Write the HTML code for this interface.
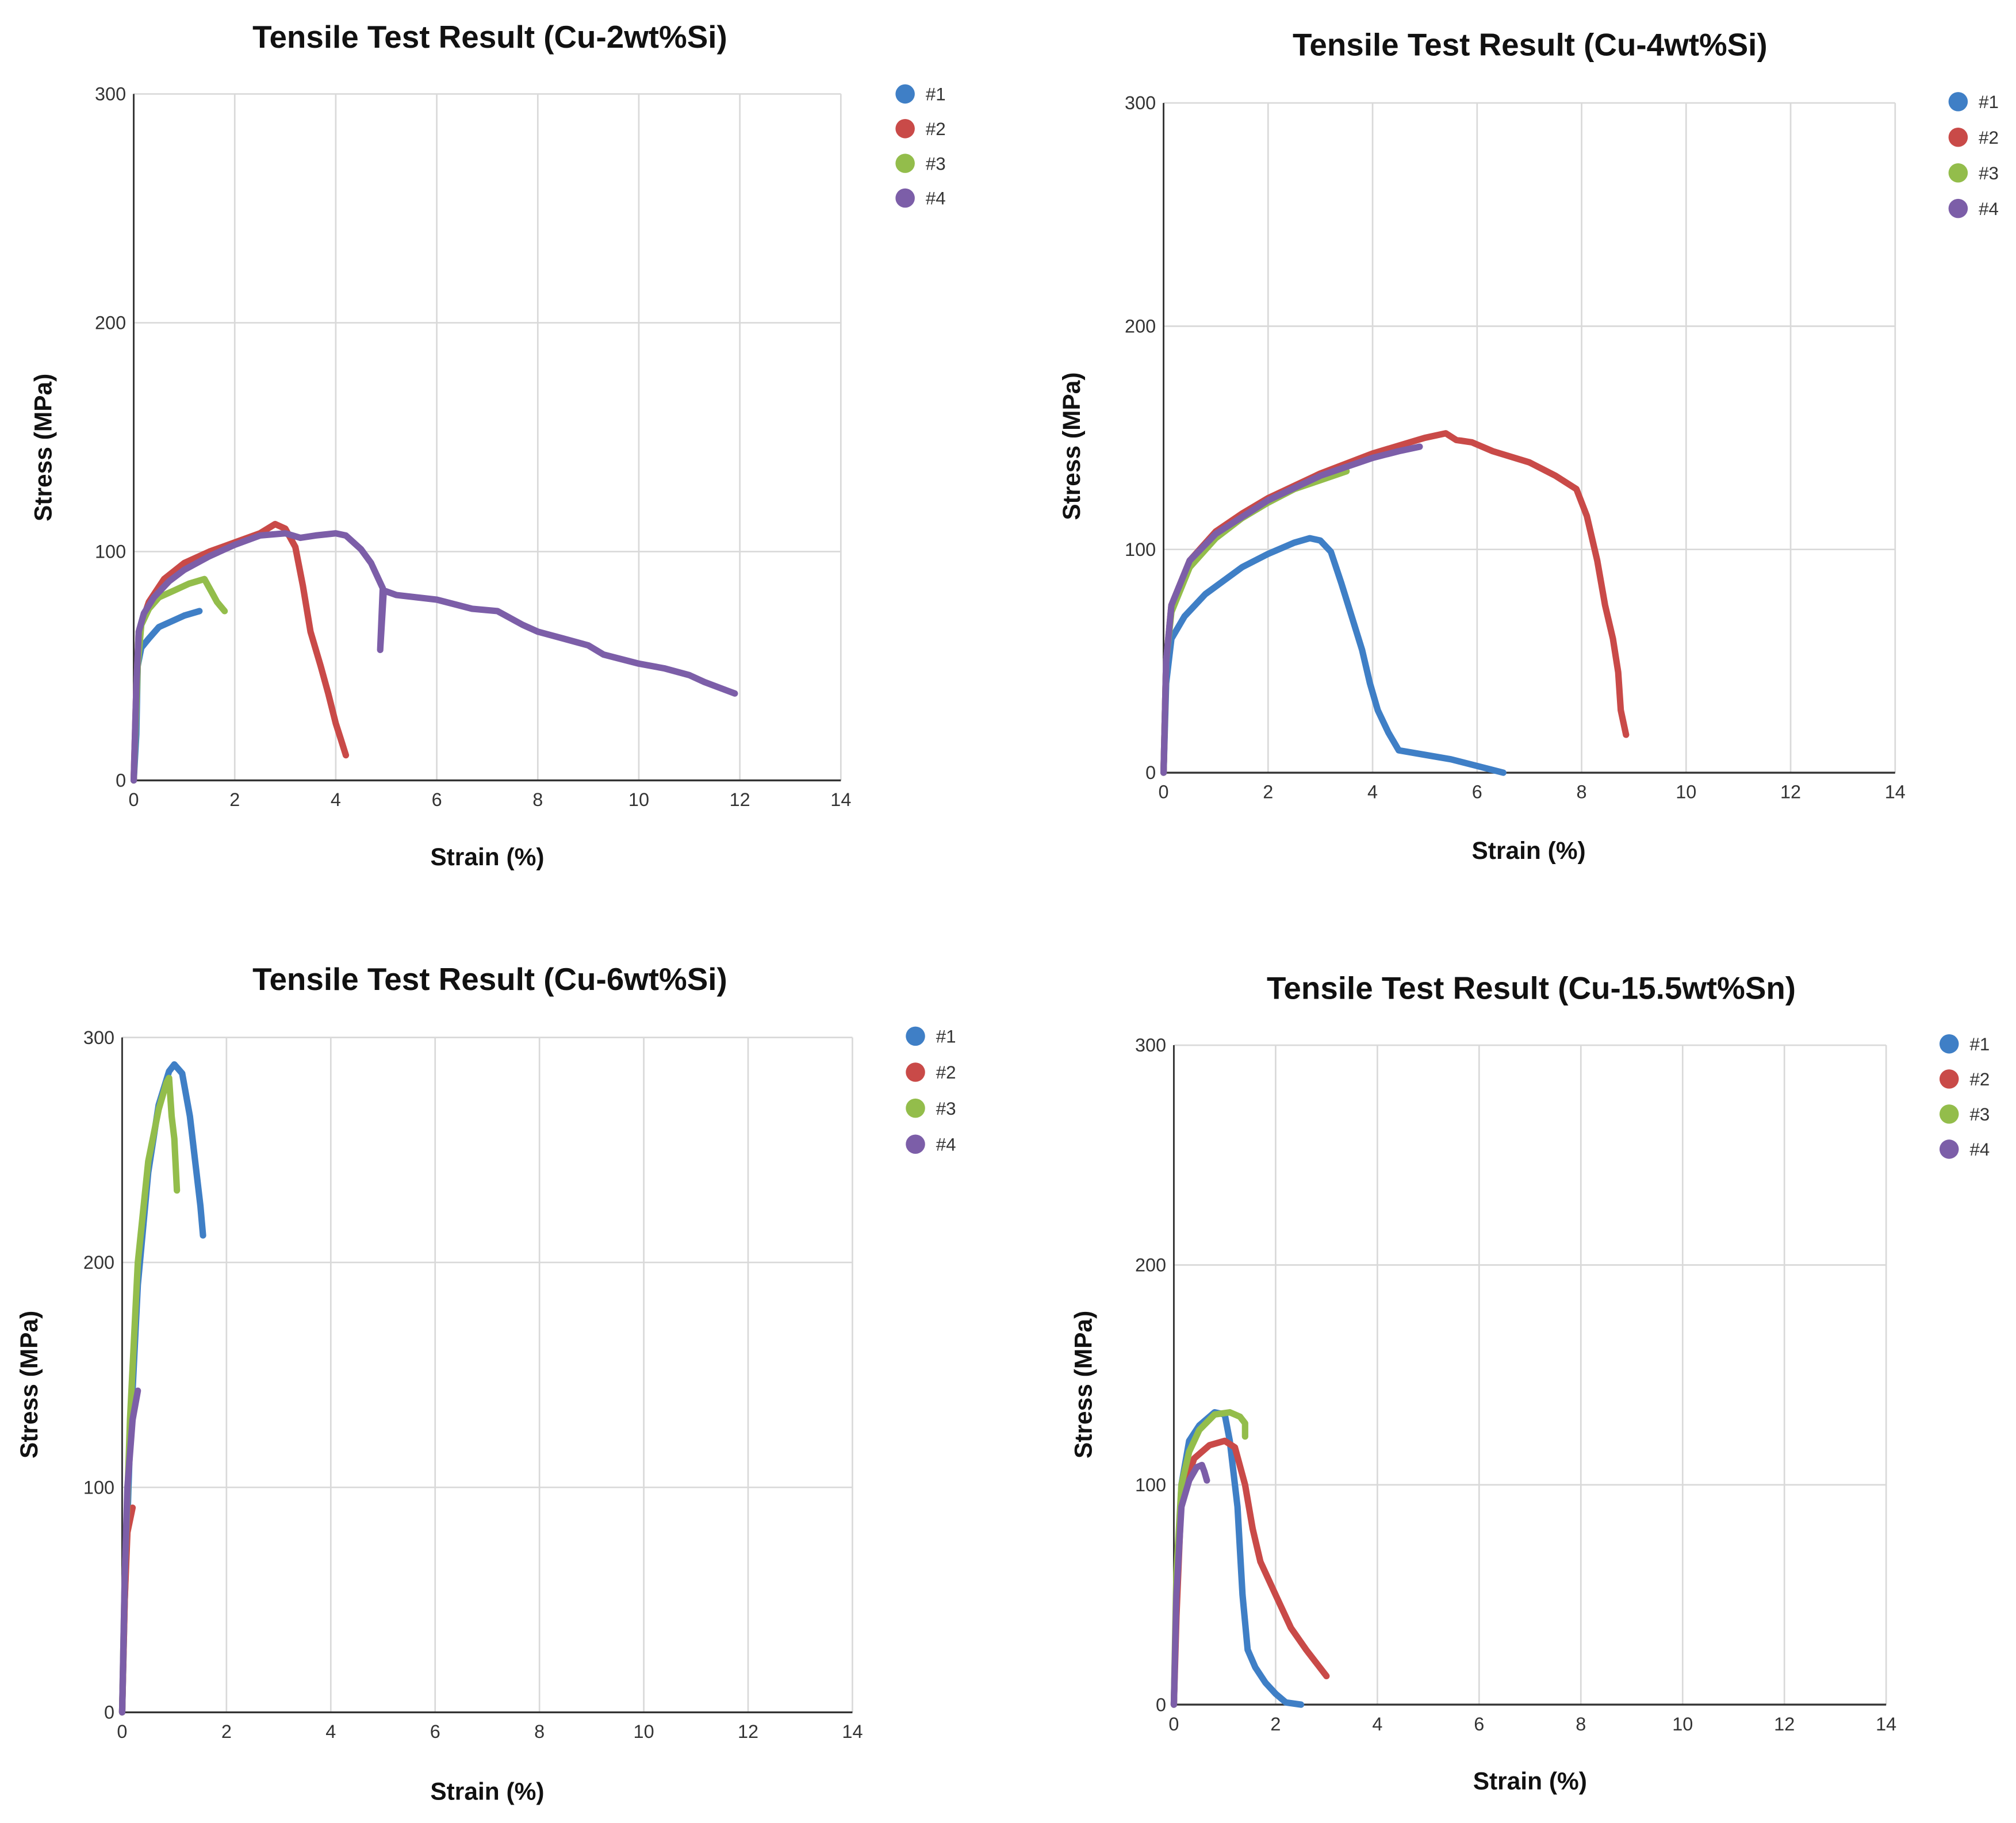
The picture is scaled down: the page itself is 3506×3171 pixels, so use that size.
<!DOCTYPE html>
<html><head><meta charset="utf-8"><style>
html,body{margin:0;padding:0;background:#fff;}
svg{display:block;font-family:"Liberation Sans","Noto Sans CJK KR",sans-serif;}
</style></head><body>
<svg id="root" width="3506" height="3171" viewBox="0 0 1568 1418" xmlns="http://www.w3.org/2000/svg"></svg>
<script>
const xTicks = [0,2,4,6,8,10,12,14];
const yTicks = [0,100,200,300];
const seriesNames = ["#1","#2","#3","#4"];
const colors = ["#3f7fc6","#c94a48","#93bd4b","#7c5ea8"];
const titles = ["Tensile Test Result (Cu-2wt%Si)","Tensile Test Result (Cu-4wt%Si)","Tensile Test Result (Cu-6wt%Si)","Tensile Test Result (Cu-15.5wt%Sn)"];

const c1s1 = [[0,0],[0.05,20],[0.08,50],[0.15,58],[0.3,62],[0.5,67],[0.8,70],[1.0,72],[1.3,74]];
const c1s2 = [[0,0],[0.05,40],[0.1,65],[0.3,78],[0.6,88],[1,95],[1.5,100],[2,104],[2.5,108],[2.8,112],[3.0,110],[3.2,102],[3.35,85],[3.5,65],[3.7,50],[3.85,38],[4.0,25],[4.1,18],[4.2,11]];
const c1s3 = [[0,0],[0.08,50],[0.15,68],[0.3,75],[0.5,80],[0.8,83],[1.1,86],[1.4,88],[1.55,82],[1.65,78],[1.8,74]];
const c1s4 = [[0,0],[0.05,40],[0.1,65],[0.2,73],[0.4,80],[0.7,87],[1,92],[1.5,98],[2,103],[2.5,107],[3,108],[3.3,106],[3.6,107],[4.0,108],[4.2,107],[4.5,101],[4.7,95],[4.93,84],[4.88,57],[4.95,83],[5.2,81],[6,79],[6.7,75],[7.2,74],[7.7,68],[8,65],[8.5,62],[9,59],[9.3,55],[10,51],[10.5,49],[11,46],[11.3,43],[11.9,38]];

const c2s1 = [[0,0],[0.05,40],[0.15,60],[0.4,70],[0.8,80],[1.5,92],[2,98],[2.5,103],[2.8,105],[3.0,104],[3.2,99],[3.4,85],[3.6,70],[3.8,55],[3.95,40],[4.1,28],[4.3,18],[4.5,10],[5,8],[5.5,6],[6,3],[6.5,0]];
const c2s2 = [[0,0],[0.05,50],[0.15,75],[0.5,95],[1,108],[1.5,116],[2,123],[3,134],[4,143],[5,150],[5.4,152],[5.6,149],[5.9,148],[6.3,144],[7,139],[7.5,133],[7.9,127],[8.1,115],[8.3,95],[8.45,75],[8.6,60],[8.7,45],[8.75,28],[8.85,17]];
const c2s3 = [[0,0],[0.05,50],[0.15,72],[0.5,92],[1,105],[1.5,114],[2,121],[2.5,127],[3,131],[3.5,135]];
const c2s4 = [[0,0],[0.05,50],[0.15,75],[0.5,95],[1,107],[2,122],[3,133],[4,141],[4.5,144],[4.9,146]];

const c3s1 = [[0,0],[0.05,50],[0.15,120],[0.3,190],[0.5,240],[0.7,270],[0.9,285],[1.0,288],[1.15,284],[1.3,265],[1.4,245],[1.5,225],[1.55,212]];
const c3s2 = [[0,0],[0.05,50],[0.1,80],[0.2,91]];
const c3s3 = [[0,0],[0.05,60],[0.15,130],[0.3,200],[0.5,245],[0.7,268],[0.85,280],[0.9,282],[0.95,265],[1.0,255],[1.05,232]];
const c3s4 = [[0,0],[0.05,60],[0.1,100],[0.2,130],[0.3,143]];

const c4s1 = [[0,0],[0.05,50],[0.15,100],[0.3,120],[0.5,127],[0.8,133],[1.0,132],[1.1,120],[1.25,90],[1.35,50],[1.45,25],[1.6,17],[1.8,10],[2.0,5],[2.2,1],[2.5,0]];
const c4s2 = [[0,0],[0.05,40],[0.15,95],[0.4,112],[0.7,118],[1,120],[1.2,117],[1.4,100],[1.55,80],[1.7,65],[2,50],[2.3,35],[2.6,25],[3,13]];
const c4s3 = [[0,0],[0.05,60],[0.15,100],[0.3,115],[0.5,125],[0.8,132],[1.1,133],[1.3,131],[1.4,128],[1.4,122]];
const c4s4 = [[0,0],[0.05,50],[0.15,90],[0.3,102],[0.45,108],[0.55,109],[0.6,106],[0.65,102]];

const allData = [[c1s1,c1s2,c1s3,c1s4],[c2s1,c2s2,c2s3,c2s4],[c3s1,c3s2,c3s3,c3s4],[c4s1,c4s2,c4s3,c4s4]];

const layouts = [
 {x0:104,x1:654,yT:73,yB:607,tx:381,ty:28,sx:379,sy:666,ax:33,ay:348,lx:704,ly:73,ld:27},
 {x0:905,x1:1474,yT:80,yB:601,tx:1190,ty:34,sx:1189,sy:661,ax:833,ay:347,lx:1523,ly:79,ld:27.7},
 {x0:95,x1:663,yT:807,yB:1332,tx:381,ty:761,sx:379,sy:1393,ax:22,ay:1077,lx:712,ly:806,ld:28},
 {x0:913,x1:1467,yT:813,yB:1326,tx:1191,ty:768,sx:1190,sy:1385,ax:842,ay:1077,lx:1516,ly:812,ld:27.3}
];
const NS="http://www.w3.org/2000/svg";
const root=document.getElementById('root');
function mk(tag,attrs,parent){const e=document.createElementNS(NS,tag);for(const k in attrs)e.setAttribute(k,attrs[k]);parent.appendChild(e);return e;}

layouts.forEach((L,ci)=>{
 const g=mk('g',{},root);
 
 
 const xs=v=>L.x0+(v/14)*(L.x1-L.x0);
 const ys=v=>L.yB-(v/300)*(L.yB-L.yT);
 const t=mk('text',{x:L.tx,y:L.ty+9,'text-anchor':'middle','font-size':24.5,'font-weight':'bold',fill:'#111'},g);
 t.textContent=titles[ci];
 
 
 xTicks.forEach(v=>{
  if(v>0){const l=mk('line',{x1:xs(v),x2:xs(v),y1:L.yT,y2:L.yB,stroke:'#d9d9d9','stroke-width':1.2},g);
  
  }
  const tx=mk('text',{x:xs(v),y:L.yB+20,'text-anchor':'middle','font-size':14.5,fill:'#333'},g);
  tx.textContent=v;
  
  
 });
 yTicks.forEach(v=>{
  if(v>0){const l=mk('line',{x1:L.x0,x2:L.x1,y1:ys(v),y2:ys(v),stroke:'#d9d9d9','stroke-width':1.2},g);
  
  }
  const ty=mk('text',{x:L.x0-6,y:ys(v)+5,'text-anchor':'end','font-size':14.5,fill:'#333'},g);
  ty.textContent=v;
  
  
 });
 const ax=mk('line',{x1:L.x0,x2:L.x0,y1:L.yT,y2:L.yB,stroke:'#333','stroke-width':1.3},g);
 
 
 const bx=mk('line',{x1:L.x0,x2:L.x1,y1:L.yB,y2:L.yB,stroke:'#333','stroke-width':1.5},g);
 
 
 const st=mk('text',{x:L.sx,y:L.sy+7,'text-anchor':'middle','font-size':19,'font-weight':'bold',fill:'#111'},g);
 st.textContent='Strain (%)';
 
 
 const sy=mk('text',{x:L.ax+7,y:L.ay,'text-anchor':'middle','font-size':19,'font-weight':'bold',fill:'#111',transform:`rotate(-90 ${L.ax+7} ${L.ay})`},g);
 sy.textContent='Stress (MPa)';
 
 
 allData[ci].forEach((d,si)=>{
  const p=mk('polyline',{points:d.map(q=>xs(q[0]).toFixed(1)+','+ys(q[1]).toFixed(1)).join(' '),fill:'none',stroke:colors[si],'stroke-width':5,'stroke-linejoin':'round','stroke-linecap':'round'},g);
  
  
  const c=mk('circle',{cx:L.lx,cy:L.ly+si*L.ld,r:7.5,fill:colors[si]},g);
  
  
  const lt=mk('text',{x:L.lx+16,y:L.ly+si*L.ld+5,'font-size':14,fill:'#333'},g);
  lt.textContent=seriesNames[si];
  
  
 });
});
</script>
</body></html>
